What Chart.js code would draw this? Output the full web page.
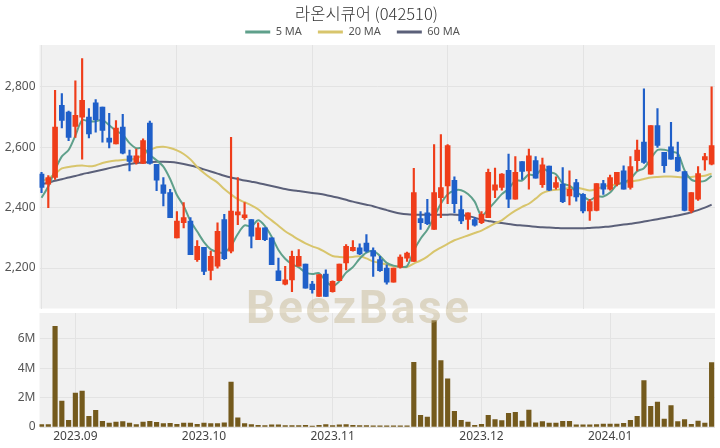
<!DOCTYPE html>
<html><head><meta charset="utf-8">
<script src="https://cdn.jsdelivr.net/npm/chart.js@4.4.1/dist/chart.umd.min.js"></script>
<style>
html,body{margin:0;padding:0;background:#fff;}
#wrap{position:relative;width:720px;height:448px;overflow:hidden;}
#c1{position:absolute;left:0;top:0;}
#c2{position:absolute;left:0;top:311px;}
#wm{position:absolute;left:246px;top:284px;font-family:Roboto,'Open Sans',sans-serif;font-weight:700;font-size:46px;letter-spacing:2.6px;line-height:1;color:rgba(190,175,130,0.42);pointer-events:none;white-space:nowrap;}
</style></head>
<body><div id="wrap">
<canvas id="c1" width="720" height="311"></canvas>
<canvas id="c2" width="720" height="137"></canvas>
<div id="wm">BeezBase</div>
</div>
<script>
const opens = [2511,2478,2500,2739,2717,2669,2700,2700,2747,2733,
2631,2611,2667,2572,2550,2547,2680,2544,2476,2450,
2300,2350,2356,2228,2269,2192,2206,2361,2256,2376,
2367,2361,2294,2333,2300,2191,2147,2161,2206,2213,
2147,2106,2180,2122,2158,2217,2258,2267,2283,2258,
2228,2200,2153,2203,2233,2222,2364,2383,2328,2433,
2472,2491,2394,2361,2361,2350,2367,2458,2467,2524,
2428,2553,2522,2556,2476,2538,2467,2478,2439,2483,
2444,2389,2391,2480,2461,2478,2522,2467,2556,2617,
2511,2672,2583,2602,2567,2520,2389,2428,2558,2544];
const highs = [2517,2506,2789,2778,2720,2820,2894,2728,2758,2733,
2713,2689,2709,2591,2594,2628,2687,2544,2500,2461,
2387,2417,2367,2291,2269,2256,2350,2378,2633,2500,
2417,2361,2350,2333,2300,2233,2206,2256,2261,2213,
2156,2178,2194,2158,2213,2278,2291,2280,2311,2267,
2239,2211,2200,2244,2253,2530,2387,2428,2609,2642,
2609,2502,2439,2383,2367,2387,2528,2531,2513,2578,
2569,2553,2594,2569,2564,2538,2502,2533,2522,2494,
2447,2428,2480,2491,2508,2517,2539,2569,2624,2794,
2672,2728,2583,2683,2617,2520,2450,2536,2580,2800];
const lows = [2450,2400,2494,2664,2622,2633,2561,2631,2650,2617,
2598,2611,2578,2522,2544,2547,2544,2456,2406,2367,
2300,2333,2244,2222,2178,2161,2200,2228,2250,2344,
2361,2267,2294,2291,2211,2158,2144,2122,2206,2133,
2117,2106,2106,2120,2158,2194,2256,2244,2253,2172,
2189,2147,2153,2200,2222,2222,2328,2344,2328,2367,
2413,2383,2347,2328,2339,2347,2367,2433,2458,2400,
2428,2494,2461,2498,2467,2456,2461,2417,2409,2422,
2383,2358,2389,2444,2458,2472,2461,2461,2522,2547,
2511,2600,2517,2561,2520,2389,2383,2424,2524,2542];
const closes = [2467,2500,2667,2689,2633,2706,2756,2644,2692,2656,
2617,2664,2581,2553,2572,2622,2547,2491,2447,2367,
2356,2367,2244,2272,2189,2239,2322,2231,2389,2386,
2376,2306,2333,2294,2211,2158,2161,2239,2239,2133,
2128,2178,2106,2156,2213,2272,2269,2247,2256,2239,
2191,2153,2200,2236,2250,2450,2350,2347,2450,2467,
2606,2413,2356,2383,2342,2378,2517,2476,2511,2428,
2517,2520,2572,2498,2542,2458,2483,2420,2461,2436,
2389,2420,2480,2461,2500,2517,2461,2536,2591,2550,
2672,2606,2539,2561,2522,2391,2450,2513,2569,2606];
const ma5 = [2433,2470,2525,2570,2591,2639,2690,2686,2686,2691,
2673,2655,2642,2614,2597,2598,2575,2557,2536,2495,
2442,2406,2356,2321,2286,2262,2253,2251,2274,2313,
2341,2338,2358,2339,2304,2260,2231,2213,2202,2186,
2180,2183,2157,2140,2156,2185,2203,2231,2251,2257,
2240,2217,2208,2204,2206,2258,2297,2327,2369,2413,
2444,2457,2458,2445,2420,2374,2395,2419,2445,2462,
2490,2490,2510,2507,2530,2518,2511,2480,2473,2452,
2438,2425,2437,2437,2450,2476,2484,2495,2521,2531,
2562,2591,2592,2586,2580,2524,2493,2487,2489,2506];
const ma20 = [2488,2497,2512,2530,2535,2538,2540,2537,2540,2548,
2553,2556,2558,2560,2563,2575,2590,2600,2602,2598,
2590,2578,2560,2535,2515,2498,2483,2462,2444,2428,
2418,2408,2395,2375,2358,2340,2322,2308,2294,2282,
2272,2264,2252,2240,2237,2236,2237,2239,2232,2222,
2217,2211,2206,2204,2203,2215,2225,2238,2255,2268,
2280,2292,2300,2308,2316,2324,2336,2348,2358,2375,
2390,2403,2413,2430,2448,2456,2459,2462,2465,2467,
2462,2457,2462,2470,2474,2477,2482,2486,2490,2495,
2500,2502,2503,2503,2502,2500,2502,2504,2506,2513];
const ma60 = [2478,2483,2489,2494,2500,2505,2511,2516,2521,2526,
2531,2536,2541,2545,2548,2550,2551,2552,2552,2551,
2549,2545,2540,2534,2527,2520,2513,2506,2500,2495,
2490,2486,2482,2477,2472,2467,2462,2458,2455,2452,
2449,2446,2442,2437,2432,2426,2420,2415,2410,2405,
2398,2392,2386,2381,2378,2377,2377,2377,2377,2377,
2377,2377,2376,2372,2367,2360,2356,2352,2349,2346,
2343,2341,2339,2337,2335,2334,2333,2332,2332,2332,
2332,2333,2334,2336,2338,2341,2344,2347,2350,2354,
2358,2362,2366,2370,2374,2379,2385,2392,2400,2410];
const volumes = [160000,160000,6850000,1760000,450000,2300000,2440000,720000,1130000,380000,
270000,340000,360000,270000,160000,340000,380000,320000,230000,250000,
180000,270000,270000,180000,270000,230000,230000,290000,3050000,630000,
230000,160000,110000,90000,140000,140000,90000,90000,90000,110000,
70000,110000,160000,90000,140000,160000,110000,90000,90000,80000,
80000,80000,80000,80000,80000,4400000,790000,680000,7230000,4520000,
3280000,1060000,450000,340000,110000,180000,790000,500000,430000,930000,
990000,410000,1150000,290000,360000,270000,270000,380000,380000,140000,
140000,140000,160000,200000,200000,200000,250000,450000,720000,3160000,
1400000,1690000,540000,1450000,360000,500000,180000,410000,270000,4380000];
const monthTickIndex = [5,24,43,65,84];
const monthTickLabels = ['2023.09','2023.10','2023.11','2023.12','2024.01'];
const priceTicks = [2200,2400,2600,2800];
const volumeTicks = [0,2000000,4000000,6000000];

const RED='#ef3d1a', BLUE='#1f5fc9';
const X_MIN=-0.3, X_MAX=99.5;
const candleColors = closes.map((c,i)=> c>=opens[i]?RED:BLUE);
const pts = arr => arr.map((v,i)=>({x:i,y:v}));
const FONT = "'Noto Sans', 'Noto Sans CJK KR', sans-serif";
const GRID = '#e3e3e3';

const bgPlugin = {id:'bg', beforeDraw(chart){const a=chart.chartArea,ctx=chart.ctx;ctx.save();ctx.fillStyle='#f1f1f1';ctx.fillRect(a.left,a.top,a.right-a.left,a.bottom-a.top);ctx.restore();}};
const headShift = {id:'headShift', afterLayout(chart){
  if(chart.titleBlock){chart.titleBlock.left+=9;chart.titleBlock.right+=9;}
  if(chart.legend){chart.legend.left-=5;chart.legend.right-=5;}
}};
const noPad = s=>{s.paddingTop=0;s.paddingBottom=0;};

const ch1 = new Chart(document.getElementById('c1'), {
  type:'bar',
  data:{datasets:[
    {type:'line',label:'5 MA',data:pts(ma5),borderColor:'#5fa08b',borderWidth:2,pointRadius:0,tension:0.3,order:3},
    {type:'line',label:'20 MA',data:pts(ma20),borderColor:'#d8c56c',borderWidth:2,pointRadius:0,tension:0.3,order:3},
    {type:'line',label:'60 MA',data:pts(ma60),borderColor:'#5b6079',borderWidth:2,pointRadius:0,tension:0.3,order:3},
    {label:'wick',data:lows.map((l,i)=>({x:i,y:[l,highs[i]]})),backgroundColor:candleColors,barThickness:1.5,grouped:false,order:2},
    {label:'body',data:opens.map((o,i)=>({x:i,y:[o,closes[i]]})),backgroundColor:candleColors,barThickness:5,grouped:false,minBarLength:1,order:1}
  ]},
  options:{
    responsive:false,animation:false,
    layout:{padding:{left:0,right:5,top:0,bottom:2.5}},
    plugins:{
      title:{display:true,text:'라온시큐어 (042510)',color:'#333',font:{family:"'Noto Sans CJK KR', sans-serif",size:16.5,weight:'300'},padding:{top:4,bottom:0}},
      legend:{display:true,labels:{
        usePointStyle:true,pointStyle:'line',pointStyleWidth:25,color:'#555',font:{family:FONT,size:11},padding:16,
        generateLabels(chart){const items=Chart.defaults.plugins.legend.labels.generateLabels(chart);return items.filter(it=>it.datasetIndex<3).map(it=>Object.assign(it,{lineWidth:3}));}
      }},
      tooltip:{enabled:false}
    },
    scales:{
      x:{type:'linear',offset:false,min:X_MIN,max:X_MAX,ticks:{display:false},grid:{color:GRID,drawTicks:false,offset:false},border:{display:false},
        afterBuildTicks:s=>{s.ticks=[0,20,40,60,80].map(v=>({value:v}));},afterFit:s=>{s.height=0;s.paddingLeft=0;s.paddingRight=0;}},
      y:{min:2066,max:2939,ticks:{color:'#555',font:{family:FONT,size:12},padding:4,callback:v=>v.toLocaleString('en-US')},
        afterBuildTicks:s=>{s.ticks=priceTicks.map(v=>({value:v}));},
        grid:{color:GRID,drawTicks:false},border:{display:false},afterFit:s=>{s.width=39.5;noPad(s);}}
    }
  },
  plugins:[bgPlugin,headShift]
});
const tBlock = ch1.titleBlock;
const titleUpdate = tBlock.update.bind(tBlock);
tBlock.update = function(w,h,m){ titleUpdate(w,h,m); this.height = 10.5; this.bottom = this.top + 10.5; };
const legendFit = ch1.legend.fit.bind(ch1.legend);
ch1.legend.fit = function(){ legendFit(); this.height = 34.5; };
ch1.update();

new Chart(document.getElementById('c2'), {
  type:'bar',
  data:{datasets:[{label:'Volume',data:pts(volumes),backgroundColor:'#745a1d',barThickness:4.5}]},
  options:{
    responsive:false,animation:false,
    layout:{padding:{left:0,right:5,top:2,bottom:0}},
    plugins:{legend:{display:false},title:{display:false},tooltip:{enabled:false}},
    scales:{
      x:{type:'linear',offset:false,min:X_MIN,max:X_MAX,
        afterBuildTicks:s=>{s.ticks=monthTickIndex.map(v=>({value:v}));},
        ticks:{color:'#444',font:{family:FONT,size:12},padding:2,maxRotation:0,autoSkip:false,callback:v=>{const k=monthTickIndex.indexOf(v);return k>=0?monthTickLabels[k]:'';}},
        grid:{color:GRID,drawTicks:false,offset:false},border:{display:false},afterFit:s=>{s.height=21;s.paddingLeft=0;s.paddingRight=0;}},
      y:{min:0,max:7750000,
        afterBuildTicks:s=>{s.ticks=volumeTicks.map(v=>({value:v}));},
        ticks:{color:'#555',font:{family:FONT,size:12},padding:4,callback:v=>v===0?'0':(v/1000000)+'M'},
        grid:{color:GRID,drawTicks:false},border:{display:false},afterFit:s=>{s.width=39.5;noPad(s);}}
    }
  },
  plugins:[bgPlugin]
});
</script>
</body></html>
